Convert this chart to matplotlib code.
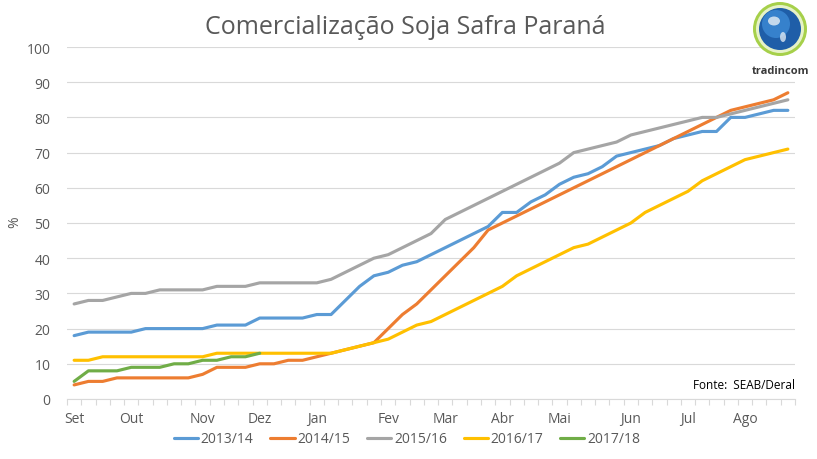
import matplotlib
matplotlib.use("Agg")
import matplotlib.pyplot as plt
from matplotlib.patches import Circle, Ellipse
from matplotlib.ticker import FixedLocator, MultipleLocator

plt.rcParams['font.family'] = ['Open Sans', 'DejaVu Sans']

# ---------------- data ----------------
month_labels = ["Set", "Out", "Nov", "Dez", "Jan", "Fev", "Mar", "Abr", "Mai", "Jun", "Jul", "Ago"]
month_pos = [0, 4, 9, 13, 17, 22, 26, 30, 34, 39, 43, 47]
n_weeks = 51

s2013 = [18, 19, 19, 19, 19, 20, 20, 20, 20, 20, 21, 21, 21, 23, 23, 23, 23, 24, 24,
         28, 32, 35, 36, 38, 39, 41, 43, 45, 47, 49, 53, 53, 56, 58, 61, 63, 64,
         66, 69, 70, 71, 72, 74, 75, 76, 76, 80, 80, 81, 82, 82]
s2014 = [4, 5, 5, 6, 6, 6, 6, 6, 6, 7, 9, 9, 9, 10, 10, 11, 11, 12, 13,
         14, 15, 16, 20, 24, 27, 31, 35, 39, 43, 48, 50, 52, 54, 56, 58, 60, 62,
         64, 66, 68, 70, 72, 74, 76, 78, 80, 82, 83, 84, 85, 87]
s2015 = [27, 28, 28, 29, 30, 30, 31, 31, 31, 31, 32, 32, 32, 33, 33, 33, 33, 33, 34,
         36, 38, 40, 41, 43, 45, 47, 51, 53, 55, 57, 59, 61, 63, 65, 67, 70, 71,
         72, 73, 75, 76, 77, 78, 79, 80, 80, 81, 82, 83, 84, 85]
s2016 = [11, 11, 12, 12, 12, 12, 12, 12, 12, 12, 13, 13, 13, 13, 13, 13, 13, 13, 13,
         14, 15, 16, 17, 19, 21, 22, 24, 26, 28, 30, 32, 35, 37, 39, 41, 43, 44,
         46, 48, 50, 53, 55, 57, 59, 62, 64, 66, 68, 69, 70, 71]
s2017 = [5, 8, 8, 8, 9, 9, 9, 10, 10, 11, 11, 12, 12, 13]

series_names = ["2013/14", "2014/15", "2015/16", "2016/17", "2017/18"]
series_values = [s2013, s2014, s2015, s2016, s2017]
colors = ["#5B9BD5", "#ED7D31", "#A5A5A5", "#FFC000", "#70AD47"]

# ---------------- figure ----------------
W, H = 817, 460
fig = plt.figure(figsize=(W / 100, H / 100), dpi=100)
L, R, T, B = 67, 795, 48, 400
ax = fig.add_axes([L / W, 1 - B / H, (R - L) / W, (B - T) / H])

txt = "#595959"
grid_c = "#D9D9D9"

for name, vals, c in zip(series_names, series_values, colors):
    ax.plot(range(len(vals)), vals, color=c, lw=2.25, label=name,
            solid_joinstyle='round', solid_capstyle='round', zorder=3)

ax.set_xlim(-0.5, n_weeks - 0.5)
ax.set_ylim(0, 100)
ax.yaxis.set_major_locator(MultipleLocator(10))
ax.grid(axis='y', color=grid_c, lw=0.8, zorder=0)
ax.set_axisbelow(True)

for s in ["top", "right", "left"]:
    ax.spines[s].set_visible(False)
ax.spines["bottom"].set_color(grid_c)
ax.spines["bottom"].set_linewidth(0.8)

ax.xaxis.set_major_locator(FixedLocator(month_pos))
ax.set_xticklabels(month_labels)
ax.xaxis.set_minor_locator(FixedLocator([i - 0.5 for i in range(n_weeks + 1)]))
ax.tick_params(axis='x', which='major', length=0, pad=9, labelsize=10, labelcolor=txt)
ax.tick_params(axis='x', which='minor', length=4, width=0.8, color=grid_c, direction='out')
ax.tick_params(axis='y', which='both', length=0, pad=12, labelsize=10, labelcolor=txt)

fig.text(15 / W, 1 - 222 / H, "%", rotation=90, ha='center', va='center',
         color=txt, fontsize=10)

ax.text(1.0, 0.04, "Fonte:  SEAB/Deral", transform=ax.transAxes, ha='right', va='center',
        fontsize=8.5, color="#000000")

fig.text(405 / W, 1 - 28 / H, "Comercialização Soja Safra Paraná", ha='center', va='center',
         fontsize=18, color=txt)

leg = fig.legend(loc='center', bbox_to_anchor=(407 / W, 1 - 440 / H), ncol=5, frameon=False,
                 fontsize=10, handlelength=1.75, handletextpad=0.2, columnspacing=1.2)
for t in leg.get_texts():
    t.set_color(txt)
for h in leg.get_lines():
    h.set_linewidth(2.25)

# ---------------- logo ----------------
lax = fig.add_axes([752 / W, 1 - 58 / H, 56 / W, 56 / H])
lax.set_xlim(-28, 28)
lax.set_ylim(-28, 28)
lax.set_aspect('equal')
lax.axis('off')
lax.add_patch(Circle((0, 0), 27, facecolor="#A6D04A", edgecolor='none'))
lax.add_patch(Circle((0, 0), 24, facecolor="#E6F2C8", edgecolor='none'))
lax.add_patch(Circle((0, 0), 21, facecolor="#1F5EA8", edgecolor='none'))
lax.add_patch(Circle((-4, 5), 14, facecolor="#3C8AD6", edgecolor='none', alpha=0.8))
lax.add_patch(Ellipse((-6, 8), 12, 9, facecolor="#DDE8F2", edgecolor='none', alpha=0.85))
lax.add_patch(Ellipse((3, -8), 6, 10, facecolor="#DDE8F2", edgecolor='none', alpha=0.8))
fig.text(781 / W, 1 - 71 / H, "tradincom", ha='center', va='center', fontsize=8,
         fontweight='bold', color="#3A3A3A")

fig.savefig("out.png", dpi=100)
